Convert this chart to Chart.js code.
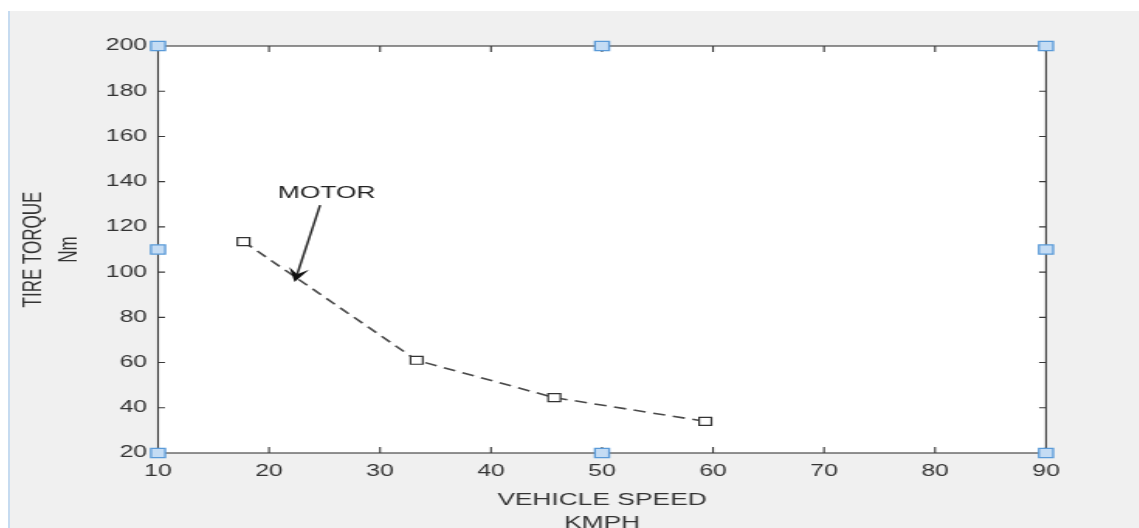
<!DOCTYPE html>
<html>
<head>
<meta charset="utf-8">
<script src="https://cdn.jsdelivr.net/npm/chart.js@4.4.0/dist/chart.umd.min.js"></script>
<style>
  html, body { margin: 0; padding: 0; background: #fff; width: 1139px; height: 528px; overflow: hidden; }
  #edge { position: absolute; left: 8px; top: 11px; width: 2px; height: 517px; background: #c6dbf0; }
  #fig { position: absolute; left: 10px; top: 11px; width: 1129px; height: 517px; background: #f0f0f0; overflow: hidden; }
  #stretch { position: absolute; left: 0; top: 0; transform: scaleX(1.55); transform-origin: 0 0; }
  canvas { display: block; }
</style>
</head>
<body>
<div id="edge"></div>
<div id="fig">
  <div id="stretch">
    <canvas id="torqueChart" width="729" height="530" style="width:729px;height:530px"></canvas>
  </div>
</div>
<script>
    // Tire torque against vehicle speed
    const speedKmph = [17.7, 33.3, 45.7, 59.3];
    const torqueNm = [113.5, 61, 44.5, 34];

    // Axis ticks
    const xTicks = [10, 20, 30, 40, 50, 60, 70, 80, 90];
    const yTicks = [20, 40, 60, 80, 100, 120, 140, 160, 180, 200];

    // Blue selection handles round the axes box
    const handleX = [10, 50, 90, 10, 90, 10, 50, 90];
    const handleY = [20, 20, 20, 110, 110, 200, 200, 200];

    // "MOTOR" annotation (data units)
    const motorText = 'MOTOR';
    const motorLabelAt = [25.2, 134.8];
    const arrowFrom = [24.6, 129.6];
    const arrowTo = [22.3, 95.6];

    const tickFont = { family: 'Arial, "Liberation Sans", sans-serif', size: 16 };
    const titleFont = { family: 'Arial, "Liberation Sans", sans-serif', size: 17, lineHeight: 1.35 };

    // White axes background
    const axesBackground = {
        id: 'axesBackground',
        beforeDraw(chart) {
            const { ctx, chartArea: a } = chart;
            ctx.save();
            ctx.fillStyle = '#ffffff';
            ctx.fillRect(a.left, a.top, a.width, a.height);
            ctx.restore();
        }
    };

    // Box and inward ticks on all four sides, MATLAB style
    const axesBox = {
        id: 'axesBox',
        beforeDatasetsDraw(chart) {
            const { ctx, chartArea: a, scales: { x, y } } = chart;
            ctx.save();
            ctx.strokeStyle = '#3a3a3a';
            ctx.lineWidth = 1.1;
            ctx.strokeRect(a.left, a.top, a.width, a.height);
            ctx.beginPath();
            x.ticks.forEach(t => {
                const px = x.getPixelForValue(t.value);
                ctx.moveTo(px, a.bottom); ctx.lineTo(px, a.bottom - 6);
                ctx.moveTo(px, a.top); ctx.lineTo(px, a.top + 6);
            });
            y.ticks.forEach(t => {
                const py = y.getPixelForValue(t.value);
                ctx.moveTo(a.left, py); ctx.lineTo(a.left + 4.5, py);
                ctx.moveTo(a.right, py); ctx.lineTo(a.right - 4.5, py);
            });
            ctx.stroke();
            ctx.restore();
        }
    };

    // Text arrow annotation
    const motorArrow = {
        id: 'motorArrow',
        afterDatasetsDraw(chart) {
            const { ctx, scales: { x, y } } = chart;
            const x0 = x.getPixelForValue(arrowFrom[0]), y0 = y.getPixelForValue(arrowFrom[1]);
            const x1 = x.getPixelForValue(arrowTo[0]), y1 = y.getPixelForValue(arrowTo[1]);
            const ang = Math.atan2(y1 - y0, x1 - x0);
            const len = 14, half = 6.5, notch = 8;
            ctx.save();
            ctx.strokeStyle = '#2a2a2a';
            ctx.fillStyle = '#111';
            ctx.lineWidth = 1.5;
            ctx.beginPath();
            ctx.moveTo(x0, y0);
            ctx.lineTo(x1 - Math.cos(ang) * notch, y1 - Math.sin(ang) * notch);
            ctx.stroke();
            // swallowtail head
            const bx = x1 - Math.cos(ang) * len, by = y1 - Math.sin(ang) * len;
            const nx = -Math.sin(ang), ny = Math.cos(ang);
            ctx.beginPath();
            ctx.moveTo(x1, y1);
            ctx.lineTo(bx + nx * half, by + ny * half);
            ctx.lineTo(x1 - Math.cos(ang) * notch, y1 - Math.sin(ang) * notch);
            ctx.lineTo(bx - nx * half, by - ny * half);
            ctx.closePath();
            ctx.fill();
            ctx.font = '17px Arial, "Liberation Sans", sans-serif';
            ctx.fillStyle = '#222';
            ctx.textAlign = 'center';
            ctx.textBaseline = 'middle';
            ctx.fillText(motorText, x.getPixelForValue(motorLabelAt[0]), y.getPixelForValue(motorLabelAt[1]));
            ctx.restore();
        }
    };

    const ctx = document.getElementById('torqueChart').getContext('2d');

    new Chart(ctx, {
        type: 'scatter',
        data: {
            datasets: [
                {
                    label: 'Motor',
                    data: speedKmph.map((v, i) => ({ x: v, y: torqueNm[i] })),
                    showLine: true,
                    borderColor: '#4a4a4a',
                    borderWidth: 1.6,
                    borderDash: [8, 5],
                    pointStyle: 'rect',
                    pointRadius: 5.6,
                    pointBackgroundColor: '#ffffff',
                    pointBorderColor: '#333333',
                    pointBorderWidth: 1.2
                },
                {
                    label: 'handles',
                    data: handleX.map((v, i) => ({ x: v, y: handleY[i] })),
                    showLine: false,
                    pointStyle: 'rect',
                    pointRadius: 6.5,
                    pointBackgroundColor: '#c4dcf4',
                    pointBorderColor: '#5a9ad8',
                    pointBorderWidth: 1.3,
                    clip: false
                }
            ]
        },
        options: {
            responsive: false,
            animation: false,
            events: [],
            layout: { padding: { top: 35, right: 60.6, left: 0, bottom: 0 } },
            plugins: {
                legend: { display: false },
                tooltip: { enabled: false }
            },
            scales: {
                x: {
                    type: 'linear',
                    min: 10,
                    max: 90,
                    afterBuildTicks: scale => { scale.ticks = xTicks.map(v => ({ value: v })); },
                    afterFit: scale => { scale.height = 88; },
                    grid: { display: false, drawTicks: false },
                    border: { display: false },
                    ticks: { autoSkip: false, maxRotation: 0, padding: 9, color: '#333', font: tickFont },
                    title: {
                        display: true,
                        text: ['VEHICLE SPEED', 'KMPH'],
                        color: '#333',
                        font: titleFont,
                        padding: { top: 0, bottom: 6.5 }
                    }
                },
                y: {
                    type: 'linear',
                    min: 20,
                    max: 200,
                    afterBuildTicks: scale => { scale.ticks = yTicks.map(v => ({ value: v })); },
                    afterFit: scale => { scale.width = 95.5; },
                    grid: { display: false, drawTicks: false },
                    border: { display: false },
                    ticks: { autoSkip: false, padding: 7, color: '#333', font: tickFont },
                    title: {
                        display: true,
                        text: ['TIRE TORQUE', 'Nm'],
                        color: '#333',
                        font: titleFont,
                        padding: { top: 4.2, bottom: 0 }
                    }
                }
            }
        },
        plugins: [axesBackground, axesBox, motorArrow]
    });
</script>
</body>
</html>
